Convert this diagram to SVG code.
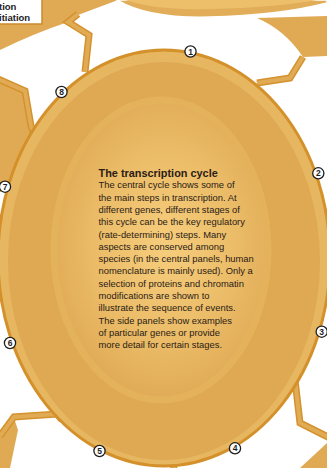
<svg xmlns="http://www.w3.org/2000/svg" width="327" height="468" viewBox="0 0 327 468">
<defs>
<style>
.frame{fill:#E0AA55;}
.stripO{fill:none;stroke:#D4922C;stroke-width:7;stroke-linejoin:miter;}
.stripI{fill:none;stroke:#E1AB56;stroke-width:4;stroke-linejoin:miter;}
.mk circle{fill:#fff;stroke:#1e1e1e;stroke-width:1.3;}
.mk text{font-family:"Liberation Sans",Arial,sans-serif;font-weight:bold;font-size:8.5px;fill:#1e1e1e;text-anchor:middle;}
.body{font-family:"Liberation Sans",Arial,sans-serif;font-size:9.4px;fill:#2a2016;}
.title{font-family:"Liberation Sans",Arial,sans-serif;font-size:10.9px;font-weight:bold;fill:#2a2016;}
.lbl{font-family:"Liberation Sans",Arial,sans-serif;font-size:9.5px;font-weight:bold;fill:#222;}
</style>
<radialGradient id="cg" cx="165" cy="245" r="150" gradientUnits="userSpaceOnUse" gradientTransform="translate(165 245) scale(0.75 1) translate(-165 -245)">
<stop offset="0" stop-color="#F6CD7C"/>
<stop offset="0.6" stop-color="#ECBD69"/>
<stop offset="1" stop-color="#E1AC57"/>
</radialGradient>
</defs>
<rect width="327" height="468" fill="#fff"/>
<g id="frame">
<path class="frame" d="M0,0 L118,0 L78,15 L68,22 Q35,33 0,50 Z"/>
<path class="frame" d="M0,83 L24,94 L30,128 L40,140 L40,188 L0,192 Z"/>
<path class="frame" d="M0,436 L14,418 L18,430 L10,468 L0,468 Z"/>
<path class="frame" d="M300,468 L327,443 L327,468 Z"/>
<path class="frame" d="M257,18 L327,16 L327,56 L303,57 Q285,30 257,18 Z"/>
<path d="M117,0 C140,14 175,18 210,17 C260,16 300,10 327,3 L327,0 Z" fill="#E2AD58" stroke="#fff" stroke-width="1.5"/>
<path d="M125,0 C150,8 180,10 210,9 C260,8 300,4 327,-2 L327,0 Z" fill="#EDBF6A"/>
</g>
<g id="connectors">
<path class="stripO" d="M78,14 L68,22 L89,35 L85,72"/>
<path class="stripI" d="M78,14 L68,22 L89,35 L85,72"/>
<path class="stripO" d="M-2,79 L25,91 L31,126 L34,134"/>
<path class="stripI" d="M-2,79 L25,91 L31,126 L34,134"/>
<path class="stripO" d="M257,83 L290,78 L303,57"/>
<path class="stripI" d="M257,83 L290,78 L303,57"/>
<path class="stripO" d="M0,436 L14,417 L57,414 L62,420"/>
<path class="stripI" d="M0,436 L14,417 L57,414 L62,420"/>
<path class="stripO" d="M295,380 L300,423 L320,433 L330,438"/>
<path class="stripI" d="M295,380 L300,423 L320,433 L330,438"/>
<path class="stripO" d="M173,460 L174,470"/>
<path class="stripI" d="M173,460 L174,470"/>
</g>
<g id="cycle">
<ellipse cx="164" cy="258" rx="166" ry="208" fill="#E7B660" stroke="#D4902A" stroke-width="3"/>
<ellipse cx="164" cy="261" rx="156" ry="199" fill="#DFA953"/>
<ellipse cx="161" cy="250" rx="107" ry="150" fill="url(#cg)" stroke="#E5B25C" stroke-width="7"/>
</g>
<g id="caption">
<text class="title" x="98.5" y="177">The transcription cycle</text>
<text class="body" x="98.5" y="188.3">The central cycle shows some of</text>
<text class="body" x="98.5" y="200.6">the main steps in transcription. At</text>
<text class="body" x="98.5" y="212.9">different genes, different stages of</text>
<text class="body" x="98.5" y="225.2">this cycle can be the key regulatory</text>
<text class="body" x="98.5" y="237.5">(rate-determining) steps. Many</text>
<text class="body" x="98.5" y="249.8">aspects are conserved among</text>
<text class="body" x="98.5" y="262.1">species (in the central panels, human</text>
<text class="body" x="98.5" y="274.4">nomenclature is mainly used). Only a</text>
<text class="body" x="98.5" y="286.7">selection of proteins and chromatin</text>
<text class="body" x="98.5" y="299">modifications are shown to</text>
<text class="body" x="98.5" y="311.3">illustrate the sequence of events.</text>
<text class="body" x="98.5" y="323.6">The side panels show examples</text>
<text class="body" x="98.5" y="335.9">of particular genes or provide</text>
<text class="body" x="98.5" y="348.2">more detail for certain stages.</text>
</g>
<g id="label-box">
<rect x="-2" y="-2" width="44" height="26" fill="#fff" stroke="#C98A2A" stroke-width="1.5"/>
<text class="lbl" x="-1" y="9.5">tion</text>
<text class="lbl" x="-1" y="20.5">itiation</text>
</g>
<g id="m1" class="mk"><circle cx="190.5" cy="51.5" r="5.6"/><text x="190.5" y="54.6">1</text></g>
<g id="m2" class="mk"><circle cx="318.3" cy="173.3" r="5.6"/><text x="318.3" y="176.4">2</text></g>
<g id="m3" class="mk"><circle cx="321.7" cy="331.7" r="5.6"/><text x="321.7" y="334.8">3</text></g>
<g id="m4" class="mk"><circle cx="235" cy="448.3" r="5.6"/><text x="235" y="451.4">4</text></g>
<g id="m5" class="mk"><circle cx="99.5" cy="451" r="5.6"/><text x="99.5" y="454.1">5</text></g>
<g id="m6" class="mk"><circle cx="10" cy="343" r="5.6"/><text x="10" y="346.1">6</text></g>
<g id="m7" class="mk"><circle cx="5" cy="186.7" r="5.6"/><text x="5" y="189.8">7</text></g>
<g id="m8" class="mk"><circle cx="61.5" cy="92" r="5.6"/><text x="61.5" y="95.1">8</text></g>
</svg>
